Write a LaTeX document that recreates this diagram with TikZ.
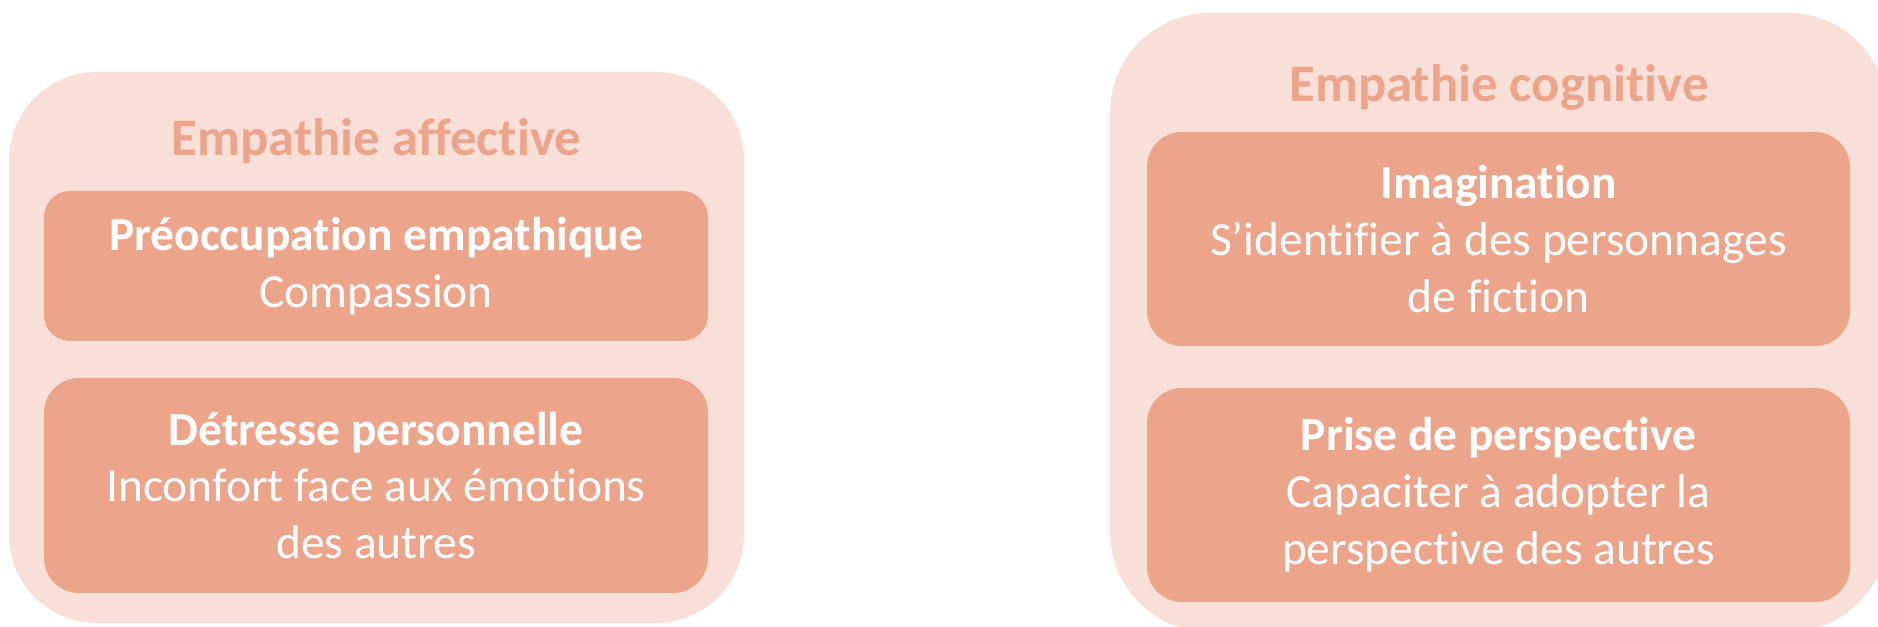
\documentclass[tikz,border=0pt]{standalone}
\usepackage{fontspec}
\setmainfont{Carlito}[Ligatures=NoCommon]
\usepackage{tikz}

\definecolor{palesalmon}{HTML}{F8DFD8}
\definecolor{salmon}{HTML}{ECA48B}

\tikzset{
    groupbox/.style={fill=palesalmon,draw=none},
    itembox/.style={fill=salmon,draw=none,text=white,align=center,
        font=\fontsize{13.5}{16.2}\selectfont},
    grouptitle/.style={text=salmon,font=\fontsize{15}{18}\selectfont\bfseries}
}

\begin{document}
\begin{tikzpicture}
    \clip (0,0) rectangle (18.78,-6.27);
    % affective side
    \node[groupbox,rounded corners=0.88cm,minimum width=7.35cm,minimum height=5.51cm] (affective) at (3.765,-3.475) {};
    \node[grouptitle] (affectivetitle) at (3.765,-1.41) {Empathie affective};
    \node[itembox,rounded corners=0.26cm,minimum width=6.64cm,minimum height=1.5cm] (preoccupation) at (3.76,-2.66) {\textbf{Préoccupation empathique}\\Compassion};
    \node[itembox,rounded corners=0.35cm,minimum width=6.64cm,minimum height=2.15cm] (detresse) at (3.76,-4.855) {\textbf{Détresse personnelle}\\Inconfort face aux émotions\\des autres};
    % cognitive side
    \node[groupbox,rounded corners=1cm,minimum width=7.78cm,minimum height=6.19cm] (cognitive) at (14.99,-3.225) {};
    \node[grouptitle] (cognitivetitle) at (14.99,-0.87) {Empathie cognitive};
    \node[itembox,rounded corners=0.35cm,minimum width=7.03cm,minimum height=2.14cm] (imagination) at (14.985,-2.39) {\textbf{Imagination}\\S’identifier à des personnages\\de fiction};
    \node[itembox,rounded corners=0.35cm,minimum width=7.03cm,minimum height=2.14cm] (perspective) at (14.985,-4.95) {\textbf{Prise de perspective}\\Capaciter à adopter la\\perspective des autres};
\end{tikzpicture}
\end{document}
